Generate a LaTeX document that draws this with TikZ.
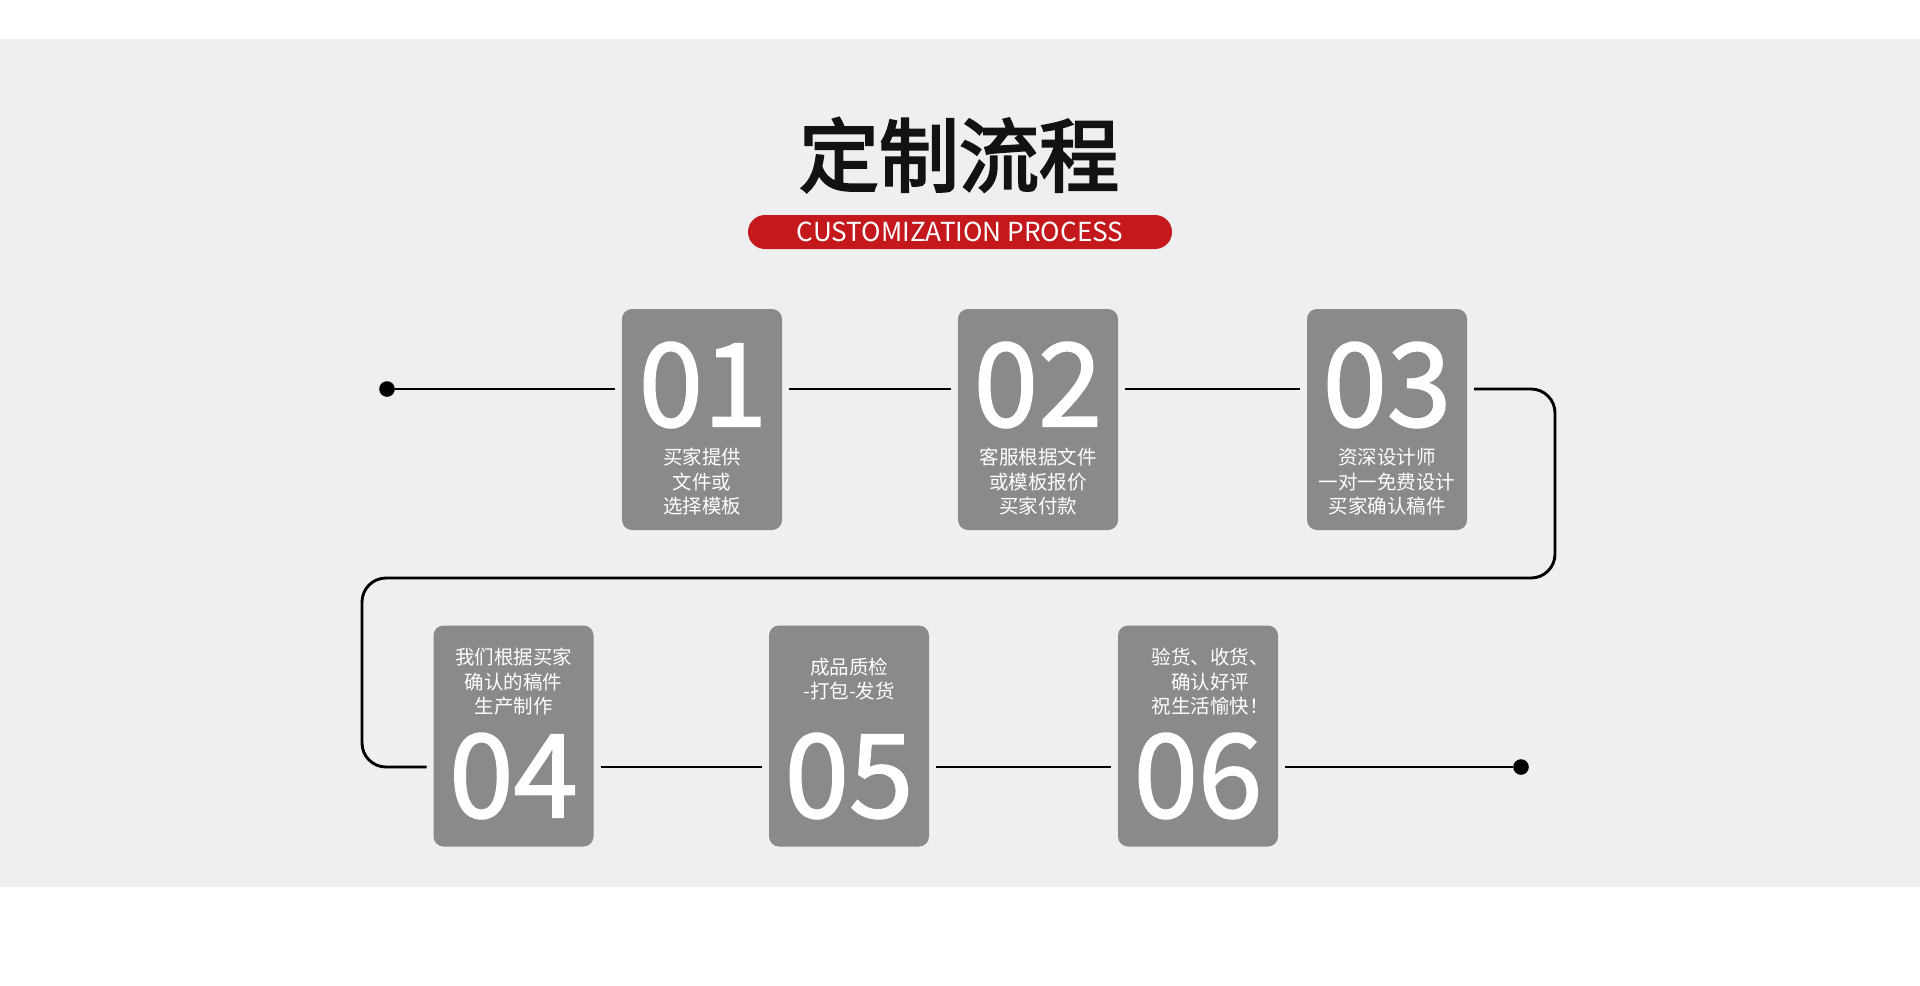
\documentclass[tikz,border=0pt]{standalone}
\usepackage{fontspec}
\setmainfont{Noto Sans CJK SC}
\newfontfamily\numfont{Noto Sans CJK SC}[FakeBold=1.5]
\newfontfamily\headfont{Noto Sans CJK SC}[FakeBold=3]
\usepackage{xcolor}
\usetikzlibrary{positioning}
\definecolor{bandgray}{RGB}{239,239,239}
\definecolor{stepgray}{RGB}{138,138,138}
\definecolor{bannerred}{RGB}{196,24,28}

\begin{document}
\begin{tikzpicture}[
    x=0.5pt, y=-0.5pt,
    stepnode/.style={rounded corners=5pt, fill=stepgray, minimum width=80pt, minimum height=110.5pt, inner sep=0pt, outer sep=3.5pt},
    numnode/.style={text=white, font=\numfont\fontsize{58pt}{58pt}\selectfont, inner sep=0pt},
    descnode/.style={text=white, font=\fontsize{9.75pt}{12.25pt}\selectfont, align=center, inner sep=0pt},
    link/.style={line width=1.45pt, draw=black},
    endpoint/.style={circle, fill=black, minimum size=7.8pt, inner sep=0pt}
]
\useasboundingbox (0,0) rectangle (1920,985);
\fill[white] (0,0) rectangle (1920,985);
\fill[bandgray] (0,39) rectangle (1920,887);

\node[font=\headfont\fontsize{40pt}{40pt}\selectfont, text=black!93] (title) at (959,155) {定制流程};
\node[fill=bannerred, rounded corners=8.5pt, minimum width=212pt, minimum height=17pt, inner sep=0pt,
      text=white, font=\fontsize{13.1pt}{13.1pt}\selectfont] (banner) at (960,232) {CUSTOMIZATION PROCESS};

% upper row
\node[stepnode] (s01) at (702,419.5) {};
\node[stepnode] (s02) at (1038,419.5) {};
\node[stepnode] (s03) at (1387,419.5) {};
\node[numnode] (n01) at (703,385) {01};
\node[numnode] (n02) at (1038,385) {02};
\node[numnode] (n03) at (1387,385) {03};
\node[descnode] (d01) at (702,482) {买家提供\\文件或\\选择模板};
\node[descnode] (d02) at (1038,482) {客服根据文件\\或模板报价\\买家付款};
\node[descnode] (d03) at (1387,482) {资深设计师\\一对一免费设计\\买家确认稿件};

% lower row
\node[stepnode] (s04) at (513.5,736) {};
\node[stepnode] (s05) at (849,736) {};
\node[stepnode] (s06) at (1198,736) {};
\node[numnode] (n04) at (513.5,776) {04};
\node[numnode] (n05) at (849,776) {05};
\node[numnode] (n06) at (1198,776) {06};
\node[descnode] (d04) at (513.5,682) {我们根据买家\\确认的稿件\\生产制作};
\node[descnode] (d05) at (849,679) {成品质检\\-打包-发货};
\node[descnode, align=left] (d06) at (1210,682) {验货、收货、\\\hspace*{1em}确认好评\\祝生活愉快！};

\node[endpoint] (start) at (387,389) {};
\node[endpoint] (finish) at (1521,767) {};

\draw[link] (start) -- (start -| s01.west);
\draw[link] (start -| s01.east) -- (start -| s02.west);
\draw[link] (start -| s02.east) -- (start -| s03.west);
\draw[link, rounded corners=12pt] (start -| s03.east) -- (1555,389) -- (1555,578) -- (362,578) -- (362,767) -- (finish -| s04.west);
\draw[link] (finish -| s04.east) -- (finish -| s05.west);
\draw[link] (finish -| s05.east) -- (finish -| s06.west);
\draw[link] (finish -| s06.east) -- (finish);

\end{tikzpicture}
\end{document}
